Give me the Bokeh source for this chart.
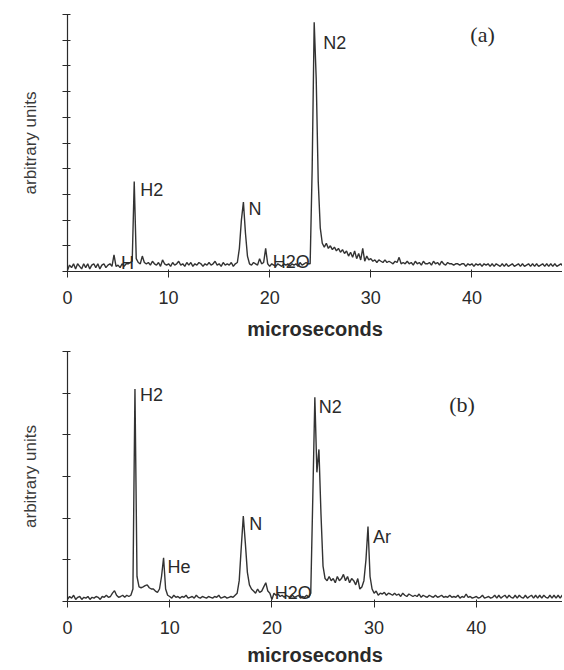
import numpy as np
from bokeh.plotting import figure
from bokeh.layouts import column
from bokeh.models import FixedTicker, Range1d, Label
from bokeh.embed import file_html
from bokeh.resources import INLINE

TIME = np.arange(250) * 0.2

# panel (a) trace, arbitrary units (rows of 10 samples = 2 us)
A_SIGNAL = [
    0.05, 0.25, 0.15, 0.3, 0.1, 0.3, 0.2, 0.1, 0.3, 0.15,
    0.3, 0.1, 0.25, 0.3, 0.15, 0.3, 0.1, 0.25, 0.3, 0.15,
    0.25, 0.3, 0.2, 0.65, 0.2, 0.25, 0.15, 0.3, 0.2, 0.3,
    0.3, 0.35, 0.4, 3.5, 0.5, 0.35, 0.3, 0.6, 0.35, 0.3,
    0.35, 0.25, 0.4, 0.3, 0.25, 0.35, 0.2, 0.45, 0.3, 0.25,
    0.3, 0.2, 0.35, 0.25, 0.3, 0.4, 0.25, 0.3, 0.2, 0.35,
    0.25, 0.35, 0.2, 0.3, 0.25, 0.35, 0.3, 0.2, 0.3, 0.25,
    0.35, 0.25, 0.3, 0.4, 0.25, 0.3, 0.2, 0.35, 0.25, 0.3,
    0.25, 0.35, 0.2, 0.3, 0.35, 0.9, 2.0, 2.7, 1.5, 0.6,
    0.3, 0.25, 0.35, 0.3, 0.25, 0.5, 0.3, 0.35, 0.9, 0.3,
    0.2, 0.3, 0.25, 0.2, 0.3, 0.25, 0.2, 0.3, 0.25, 0.3,
    0.2, 0.3, 0.25, 0.3, 0.2, 0.35, 0.25, 0.3, 0.35, 0.3,
    0.3, 4.0, 9.7, 7.5, 3.5, 1.7, 1.1, 0.95, 1.1, 0.9,
    1.0, 0.85, 0.95, 0.8, 0.9, 0.75, 0.85, 0.7, 0.8, 0.6,
    0.75, 0.55, 0.8, 0.5, 0.7, 0.45, 0.9, 0.4, 0.6, 0.45,
    0.5, 0.4, 0.45, 0.35, 0.45, 0.4, 0.35, 0.45, 0.35, 0.4,
    0.35, 0.3, 0.4, 0.35, 0.55, 0.3, 0.35, 0.3, 0.4, 0.3,
    0.35, 0.25, 0.4, 0.3, 0.35, 0.25, 0.4, 0.3, 0.3, 0.35,
    0.25, 0.4, 0.3, 0.35, 0.25, 0.4, 0.3, 0.25, 0.35, 0.3,
    0.3, 0.25, 0.3, 0.3, 0.25, 0.3, 0.3, 0.2, 0.3, 0.25,
    0.3, 0.2, 0.3, 0.25, 0.3, 0.2, 0.3, 0.25, 0.3, 0.2,
    0.3, 0.2, 0.3, 0.25, 0.2, 0.3, 0.2, 0.3, 0.2, 0.25,
    0.3, 0.2, 0.25, 0.3, 0.2, 0.3, 0.2, 0.25, 0.3, 0.2,
    0.3, 0.2, 0.3, 0.2, 0.25, 0.3, 0.2, 0.3, 0.2, 0.3,
    0.2, 0.3, 0.2, 0.25, 0.3, 0.2, 0.3, 0.2, 0.3, 0.2,
]

# panel (b) trace, arbitrary units
B_SIGNAL = [
    0.05, 0.12, 0.08, 0.15, 0.05, 0.1, 0.12, 0.05, 0.1, 0.08,
    0.12, 0.05, 0.1, 0.08, 0.12, 0.1, 0.05, 0.12, 0.1, 0.15,
    0.1, 0.12, 0.2, 0.26, 0.15, 0.1, 0.12, 0.15, 0.1, 0.15,
    0.12, 0.15, 0.3, 5.1, 0.6, 0.35, 0.33, 0.35, 0.38, 0.4,
    0.33, 0.3, 0.3, 0.25, 0.22, 0.3, 0.6, 1.05, 0.3, 0.15,
    0.12, 0.08, 0.15, 0.1, 0.12, 0.08, 0.12, 0.1, 0.15, 0.08,
    0.1, 0.12, 0.08, 0.15, 0.1, 0.08, 0.12, 0.1, 0.08, 0.12,
    0.1, 0.08, 0.12, 0.1, 0.15, 0.08, 0.1, 0.12, 0.08, 0.1,
    0.12, 0.1, 0.15, 0.2, 0.5, 1.3, 2.05, 1.4, 0.7, 0.4,
    0.3, 0.25, 0.2, 0.3, 0.22, 0.25, 0.35, 0.45, 0.25, 0.2,
    0.05, 0.2, 0.15, 0.18, 0.12, 0.15, 0.1, 0.15, 0.12, 0.1,
    0.15, 0.1, 0.12, 0.15, 0.08, 0.12, 0.1, 0.15, 0.1, 0.2,
    2.5, 4.9, 3.1, 3.65, 2.1, 0.85, 0.55, 0.5, 0.6, 0.5,
    0.55, 0.45, 0.6, 0.5, 0.55, 0.65, 0.5, 0.6, 0.45, 0.55,
    0.5, 0.4, 0.55, 0.3, 0.35, 0.5, 1.0, 1.8, 0.6, 0.3,
    0.2, 0.25, 0.15, 0.2, 0.18, 0.22, 0.15, 0.2, 0.18, 0.15,
    0.2, 0.15, 0.18, 0.12, 0.2, 0.15, 0.12, 0.18, 0.15, 0.12,
    0.15, 0.12, 0.18, 0.1, 0.15, 0.12, 0.1, 0.15, 0.12, 0.1,
    0.15, 0.1, 0.12, 0.15, 0.1, 0.12, 0.1, 0.15, 0.1, 0.12,
    0.1, 0.15, 0.08, 0.12, 0.1, 0.18, 0.1, 0.12, 0.08, 0.1,
    0.12, 0.08, 0.1, 0.15, 0.08, 0.1, 0.12, 0.08, 0.1, 0.15,
    0.08, 0.15, 0.08, 0.12, 0.15, 0.08, 0.15, 0.1, 0.08, 0.15,
    0.08, 0.15, 0.1, 0.08, 0.15, 0.08, 0.12, 0.15, 0.08, 0.15,
    0.08, 0.15, 0.08, 0.15, 0.1, 0.08, 0.15, 0.08, 0.15, 0.08,
    0.15, 0.08, 0.15, 0.08, 0.12, 0.15, 0.08, 0.15, 0.08, 0.15,
]

# labelled peaks: name, time (us), height (a.u.)
A_PEAK_NAMES = ["H", "H2", "N", "H2O", "N2"]
A_PEAK_TIMES = [4.6, 6.6, 17.4, 19.6, 24.4]
A_PEAK_HEIGHTS = [0.65, 3.5, 2.7, 0.9, 9.7]

B_PEAK_NAMES = ["H2", "He", "N", "H2O", "N2", "Ar"]
B_PEAK_TIMES = [6.6, 9.4, 17.2, 19.6, 24.2, 29.4]
B_PEAK_HEIGHTS = [5.1, 1.05, 2.05, 0.45, 4.9, 1.8]

X_TICKS = [0, 10, 20, 30, 40]
A_Y_TICKS = list(range(0, 11))
B_Y_TICKS = list(range(0, 7))

# label offsets in screen pixels (style only)
A_OFFSETS = [(7, -8), (6, -8), (5, -7), (7, -14), (9, -21)]
B_OFFSETS = [(5, -6), (4, -9), (6, -8), (7, -10), (4, -10), (5, -10)]

INK = "#2a2a2a"
SANS = "Liberation Sans"


def make_panel(signal, y_ticks, x_end, height, left, top, bottom, lab_standoff,
               names, times, heights, offsets, tag, tag_pos):
    p = figure(width=562, height=height, output_backend="svg",
               toolbar_location=None, x_range=Range1d(0, x_end),
               y_range=Range1d(0, y_ticks[-1]),
               min_border_left=left, min_border_right=0,
               min_border_top=top, min_border_bottom=bottom)
    p.outline_line_color = None
    p.grid.visible = False
    p.background_fill_color = "white"
    p.border_fill_color = "white"

    p.line(TIME, signal, line_color="#333333", line_width=1.4)

    xa = p.xaxis[0]
    xa.ticker = FixedTicker(ticks=X_TICKS, minor_ticks=[])
    xa.axis_line_color = INK
    xa.axis_line_width = 1.2
    xa.major_tick_line_color = INK
    xa.major_tick_out = 6
    xa.major_tick_in = 2
    xa.minor_tick_line_color = None
    xa.major_label_text_font = SANS
    xa.major_label_text_font_size = "18px"
    xa.major_label_text_color = INK
    xa.major_label_standoff = 13
    xa.axis_label = "microseconds"
    xa.axis_label_text_font = SANS
    xa.axis_label_text_font_style = "bold"
    xa.axis_label_text_font_size = "20px"
    xa.axis_label_text_color = INK
    xa.axis_label_standoff = lab_standoff

    ya = p.yaxis[0]
    ya.ticker = FixedTicker(ticks=y_ticks, minor_ticks=[])
    ya.axis_line_color = INK
    ya.axis_line_width = 1.2
    ya.major_tick_line_color = INK
    ya.major_tick_out = 5
    ya.major_tick_in = 3
    ya.minor_tick_line_color = None
    ya.major_label_overrides = {t: "" for t in y_ticks}
    ya.major_label_standoff = 0
    ya.axis_label = "arbitrary units"
    ya.axis_label_text_font = SANS
    ya.axis_label_text_font_style = "normal"
    ya.axis_label_text_font_size = "17px"
    ya.axis_label_text_color = "#3a3a3a"
    ya.axis_label_standoff = 23

    for name, t, h, (dx, dy) in zip(names, times, heights, offsets):
        p.add_layout(Label(x=t, y=h, text=name, x_offset=dx, y_offset=dy,
                           text_font=SANS, text_font_size="18px",
                           text_color=INK, text_baseline="alphabetic",
                           text_align="left"))
    p.add_layout(Label(x=tag_pos[0], y=tag_pos[1], text=tag,
                       text_font="Liberation Serif", text_font_size="22px",
                       text_color=INK, text_baseline="middle",
                       text_align="center"))
    return p


pa = make_panel(A_SIGNAL, A_Y_TICKS, 48.96, 342, 65, 14, 70, 11,
                A_PEAK_NAMES, A_PEAK_TIMES, A_PEAK_HEIGHTS, A_OFFSETS,
                "(a)", (41.05, 9.22))
pb = make_panel(B_SIGNAL, B_Y_TICKS, 48.43, 326, 67, 9, 66, 7,
                B_PEAK_NAMES, B_PEAK_TIMES, B_PEAK_HEIGHTS, B_OFFSETS,
                "(b)", (38.6, 4.74))

layout = column(pa, pb, spacing=0)
open("out.html", "w").write(file_html(layout, INLINE))
